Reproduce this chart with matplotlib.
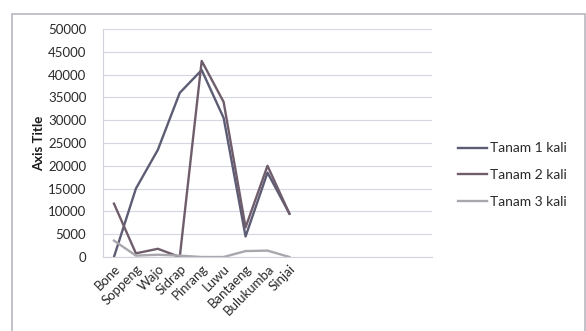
import matplotlib.pyplot as plt
from matplotlib.patches import Rectangle

plt.rcParams["font.family"] = ["Lato", "DejaVu Sans"]

kabupaten = ["Bone", "Soppeng", "Wajo", "Sidrap", "Pinrang", "Luwu",
             "Bantaeng", "Bulukumba", "Sinjai"]
tanam_1 = [0, 15000, 23500, 36000, 41000, 30500, 4500, 18500, 9500]
tanam_2 = [11700, 800, 1800, 0, 43000, 34000, 6500, 20000, 9500]
tanam_3 = [3600, 300, 500, 300, 0, 0, 1300, 1400, 0]
yticks = [0, 5000, 10000, 15000, 20000, 25000, 30000, 35000, 40000, 45000, 50000]
n_slots = 15  # axis has room for 15 categories, only 9 are filled

fig = plt.figure(figsize=(5.86, 3.31), dpi=100)
fig.patches.append(Rectangle((12 / 586, -0.05), 573 / 586, 1 - 14 / 331 + 0.05,
                             transform=fig.transFigure, fill=False,
                             edgecolor="#b8b8c0", lw=1.2))

ax = fig.add_axes([103 / 586, 74 / 331, 329 / 586, 228 / 331])
x = list(range(len(kabupaten)))
ax.plot(x, tanam_1, color="#5c5c74", lw=1.7, label="Tanam 1 kali")
ax.plot(x, tanam_2, color="#6f5d6c", lw=1.7, label="Tanam 2 kali")
ax.plot(x, tanam_3, color="#a9a6ad", lw=1.7, label="Tanam 3 kali")

ax.set_xlim(-0.5, n_slots - 0.5)
ax.set_ylim(0, 50000)
ax.set_yticks(yticks)
ax.set_yticklabels([str(v) for v in yticks], fontsize=9.5, color="#2a2a2a")
ax.set_xticks(x)
ax.set_xticklabels(kabupaten, rotation=45, ha="right", rotation_mode="anchor",
                   fontsize=9.5, color="#2a2a2a")
ax.tick_params(length=0, pad=12)
ax.tick_params(axis="x", pad=4)

ax.grid(axis="y", color="#d4d6e2", lw=0.8)
ax.set_axisbelow(True)
for side in ["top", "right"]:
    ax.spines[side].set_visible(False)
ax.spines["left"].set_color("#d0d2dc")
ax.spines["bottom"].set_color("#d0d2dc")

ax.set_ylabel("Axis Title", fontsize=9.5, fontweight="bold", labelpad=2,
              color="#1a1a1a")

fig.legend(loc="center left", bbox_to_anchor=(445 / 586, 1 - 175 / 331),
           frameon=False, fontsize=10, handlelength=2.1, handletextpad=0.25,
           labelspacing=1.05, labelcolor="#2a2a2a")

fig.savefig("out.png", dpi=100)
plt.close(fig)
